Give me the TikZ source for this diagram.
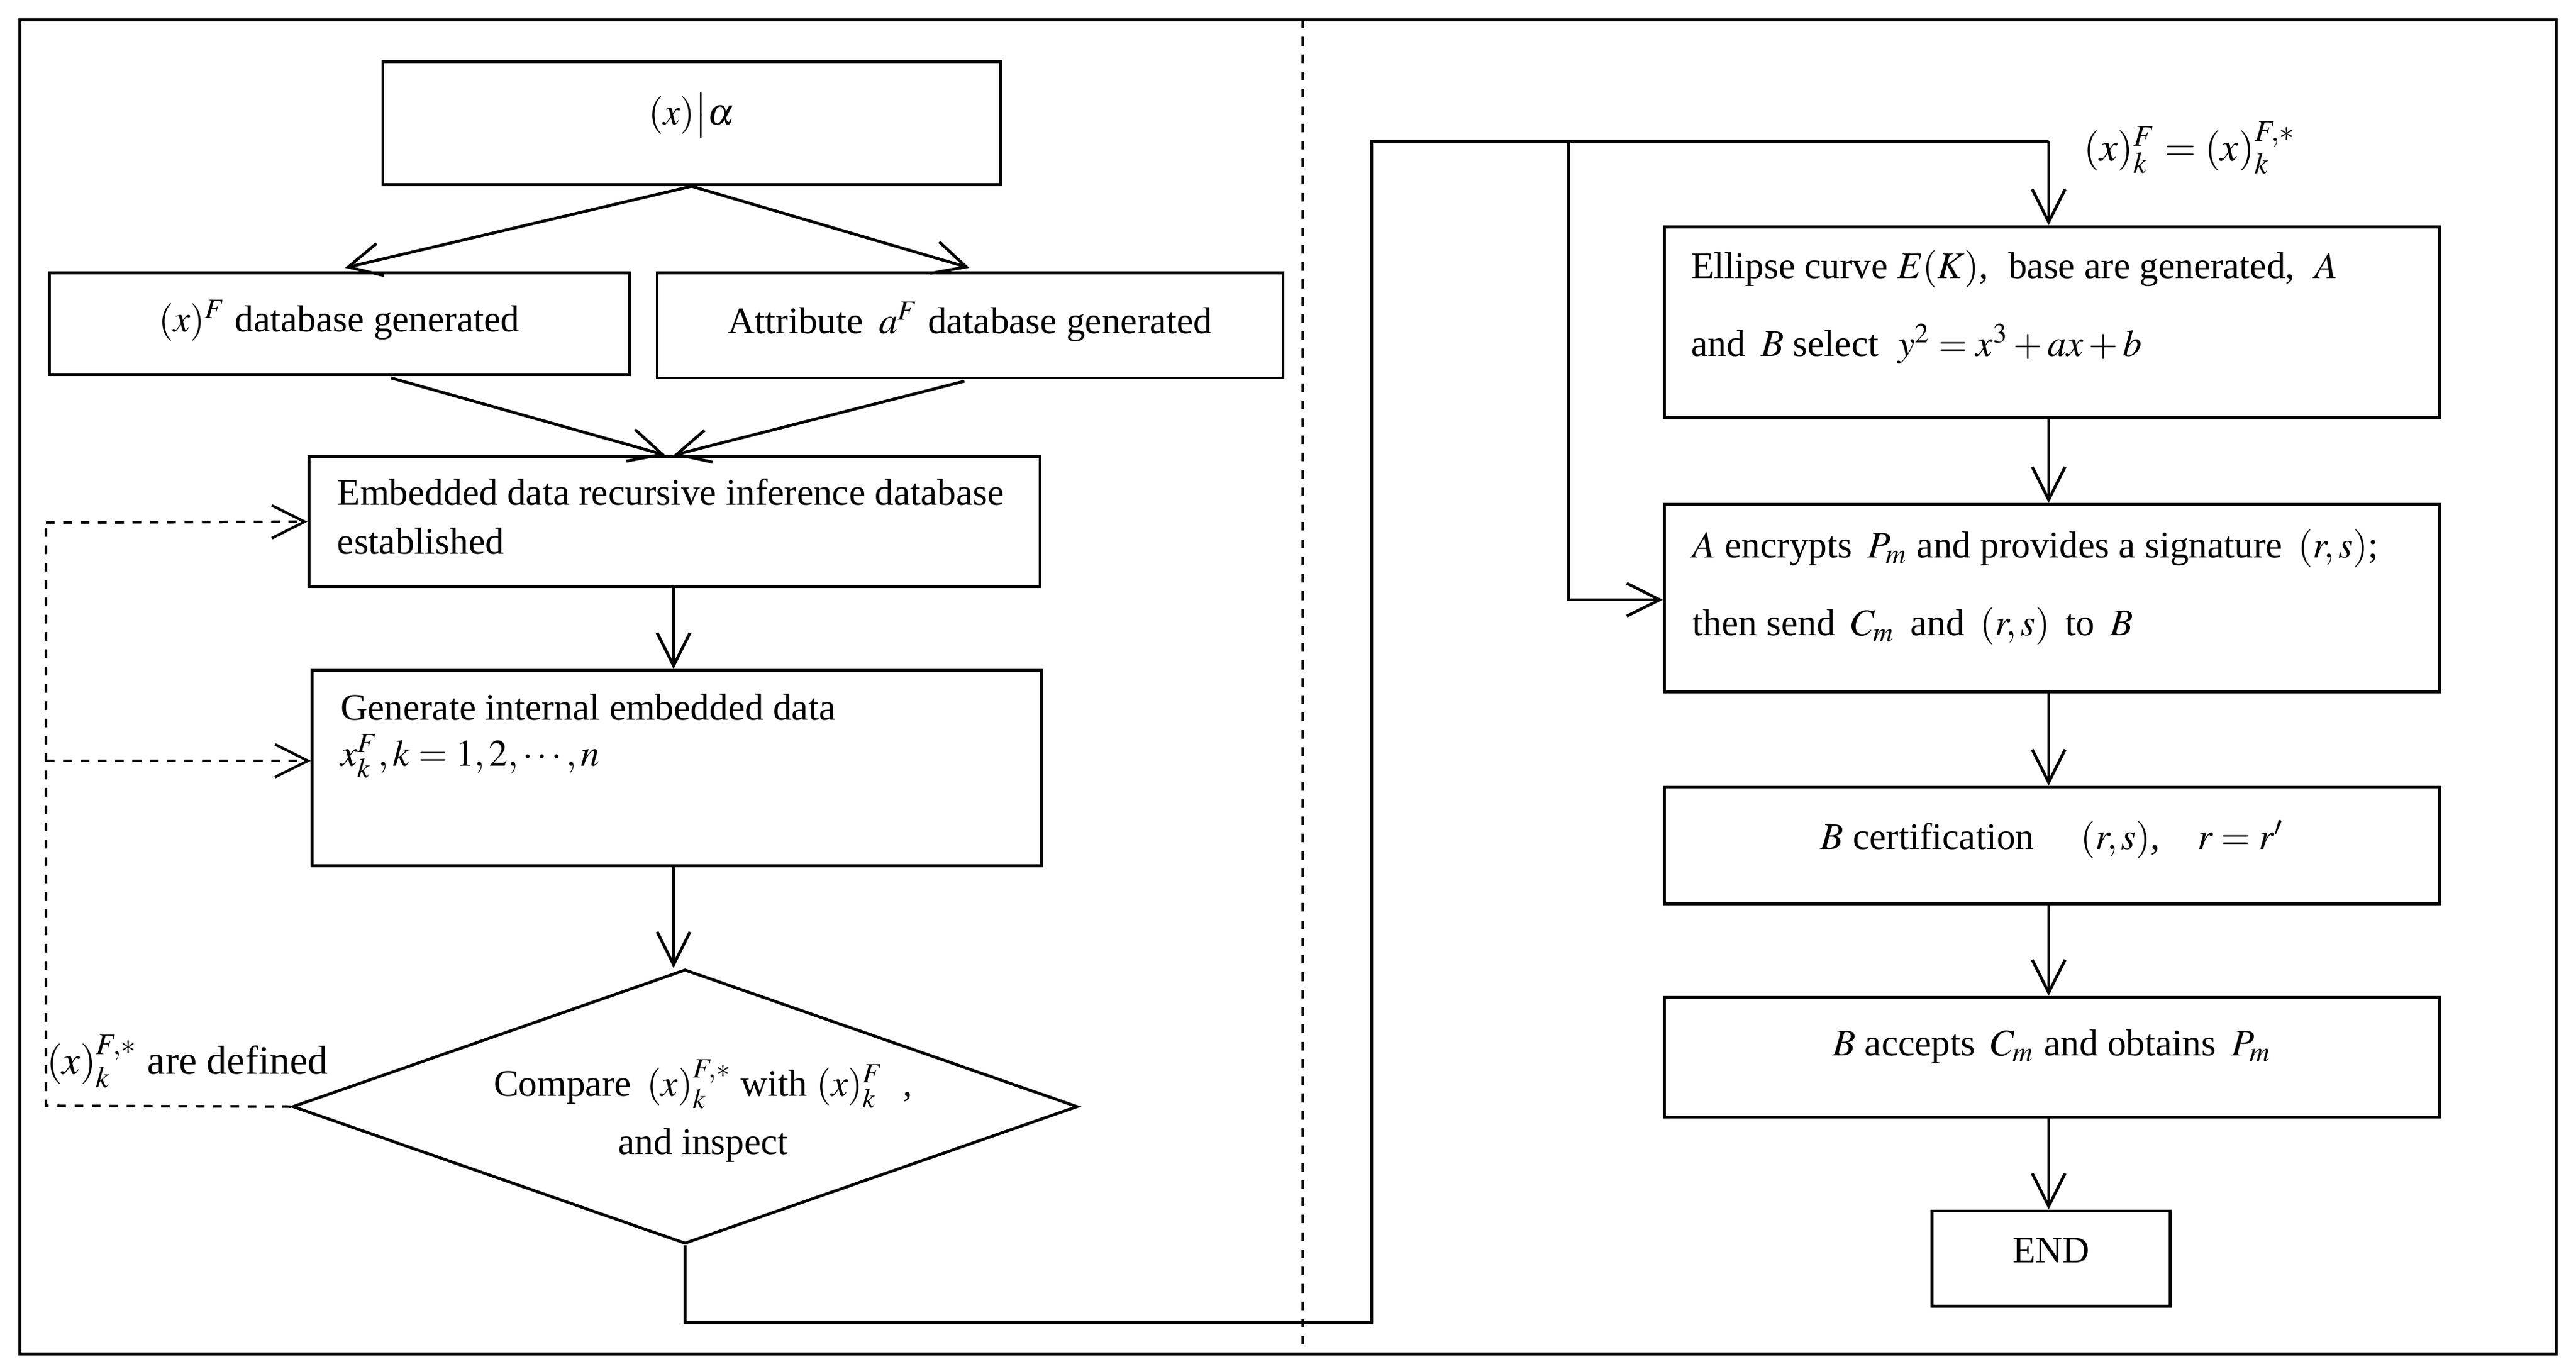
\documentclass[tikz,border=0pt]{standalone}
\usepackage{mathptmx}
\usepackage{fontspec}
\setmainfont{Liberation Serif}
\usetikzlibrary{shapes.geometric,arrows.meta}
\begin{document}
\begin{tikzpicture}[x=0.02cm,y=-0.02cm,
  box/.style={draw,line width=1pt,inner sep=0pt},
  txt/.style={font=\fontsize{13}{15}\selectfont,inner sep=0pt},
  arr/.style={line width=1pt,-{Straight Barb[length=4mm,width=4mm]}},
  fb/.style={line width=0.9pt,dashed,-{Straight Barb[length=4mm,width=4mm]}}]
\useasboundingbox (0,0) rectangle (1568,833);
\draw[line width=1pt] (12,12) rectangle (1556,824);
\draw[line width=0.8pt,dashed] (793,12) -- (793,824);
% left column
\node[box,minimum width=7.52cm,minimum height=1.5cm] (top) at (421,75) {};
\node[txt] at (421,70) {$(x)\big|\alpha$};
\node[box,minimum width=7.06cm,minimum height=1.24cm] (fx) at (206.5,197) {};
\node[txt] at (206.5,195) {$(x)^{F}$ database generated};
\node[box,minimum width=7.62cm,minimum height=1.28cm] (fa) at (590.5,198) {};
\node[txt] at (590.5,196) {Attribute \,$a^{F}$ database generated};
\node[box,minimum width=8.9cm,minimum height=1.58cm] (emb) at (410.5,317.5) {};
\node[txt,anchor=north west,align=left] at (205,291) {Embedded data recursive inference database\\[2pt]established};
\node[box,minimum width=8.88cm,minimum height=2.38cm] (gen) at (412,467.5) {};
\node[txt,anchor=north west,align=left] at (207,422) {Generate internal embedded data\\[1pt]$x_k^{F}, k=1,2,\cdots,n$};
\node[draw,line width=1pt,diamond,aspect=2.86,minimum width=9.56cm,minimum height=3.34cm,inner sep=0pt] (cmp) at (417,673.5) {};
\node[txt] at (428,660) {Compare \,$(x)_k^{F,*}$ with $(x)_k^{F}$ \;,};
\node[txt] at (428,697) {and inspect};
\node[txt,anchor=west,font=\fontsize{14}{16}\selectfont] (def) at (28,646) {$(x)_k^{F,*}$ are defined};
\draw[arr] (top.south) -- (210,163);
\draw[arr] (top.south) -- (590,163);
\draw[arr] (238,230) -- (405,277);
\draw[arr] (587,232) -- (410,277);
\draw[arr] (emb.south -| 410,0) -- (gen.north -| 410,0);
\draw[arr] (gen.south -| 410,0) -- (cmp.north -| 410,0);
\coordinate (fbc) at (28,673);
\draw[line width=0.9pt,dashed] (cmp.west) -- (fbc) -- (28,318);
\draw[fb] (28,318) -- (emb.west);
\draw[fb] (28,463) -- (gen.west |- 0,463);
% right column
\node[box,minimum width=9.44cm,minimum height=2.32cm] (r1) at (1249,196) {};
\node[txt,anchor=north west,align=left] at (1029,152) {Ellipse curve $E(K)$,\; base are generated, \;$A$\\[12pt]and \,$B$ select \;$y^{2}=x^{3}+ax+b$};
\node[box,minimum width=9.44cm,minimum height=2.28cm] (r2) at (1249,364) {};
\node[txt,anchor=north west,align=left] at (1030,322) {$A$ encrypts \,$P_m$ and provides a signature \,$(r,s)$;\\[12pt]then send \,$C_m$ \,and \,$(r,s)$ \,to \,$B$};
\node[box,minimum width=9.44cm,minimum height=1.42cm] (r3) at (1249,514.5) {};
\node[txt] at (1249,511) {$B$ certification \quad $(r,s)$,\quad $r=r'$};
\node[box,minimum width=9.44cm,minimum height=1.46cm] (r4) at (1249,643.5) {};
\node[txt] at (1249,637) {$B$ accepts \,$C_m$ and obtains \,$P_m$};
\node[box,minimum width=2.9cm,minimum height=1.16cm] (end) at (1248.5,766) {};
\node[txt] at (1248.5,761) {END};
\node[txt,font=\fontsize{14}{16}\selectfont] (eq) at (1333,90) {$(x)_k^{F}=(x)_k^{F,*}$};
\coordinate (c1) at (417,805);
\coordinate (c2) at (835,805);
\coordinate (c3) at (835,86);
\coordinate (c4) at (1247,86);
\coordinate (c5) at (955,86);
\coordinate (c6) at (955,365);
\draw[line width=1pt] (cmp.south) -- (c1) -- (c2) -- (c3) -- (c4);
\draw[arr] (c4) -- (r1.north -| c4);
\draw[arr] (c5) -- (c6) -- (r2.west |- c6);
\draw[arr] (r1.south -| c4) -- (r2.north -| c4);
\draw[arr] (r2.south -| c4) -- (r3.north -| c4);
\draw[arr] (r3.south -| c4) -- (r4.north -| c4);
\draw[arr] (r4.south -| c4) -- (end.north -| c4);
\end{tikzpicture}
\end{document}
